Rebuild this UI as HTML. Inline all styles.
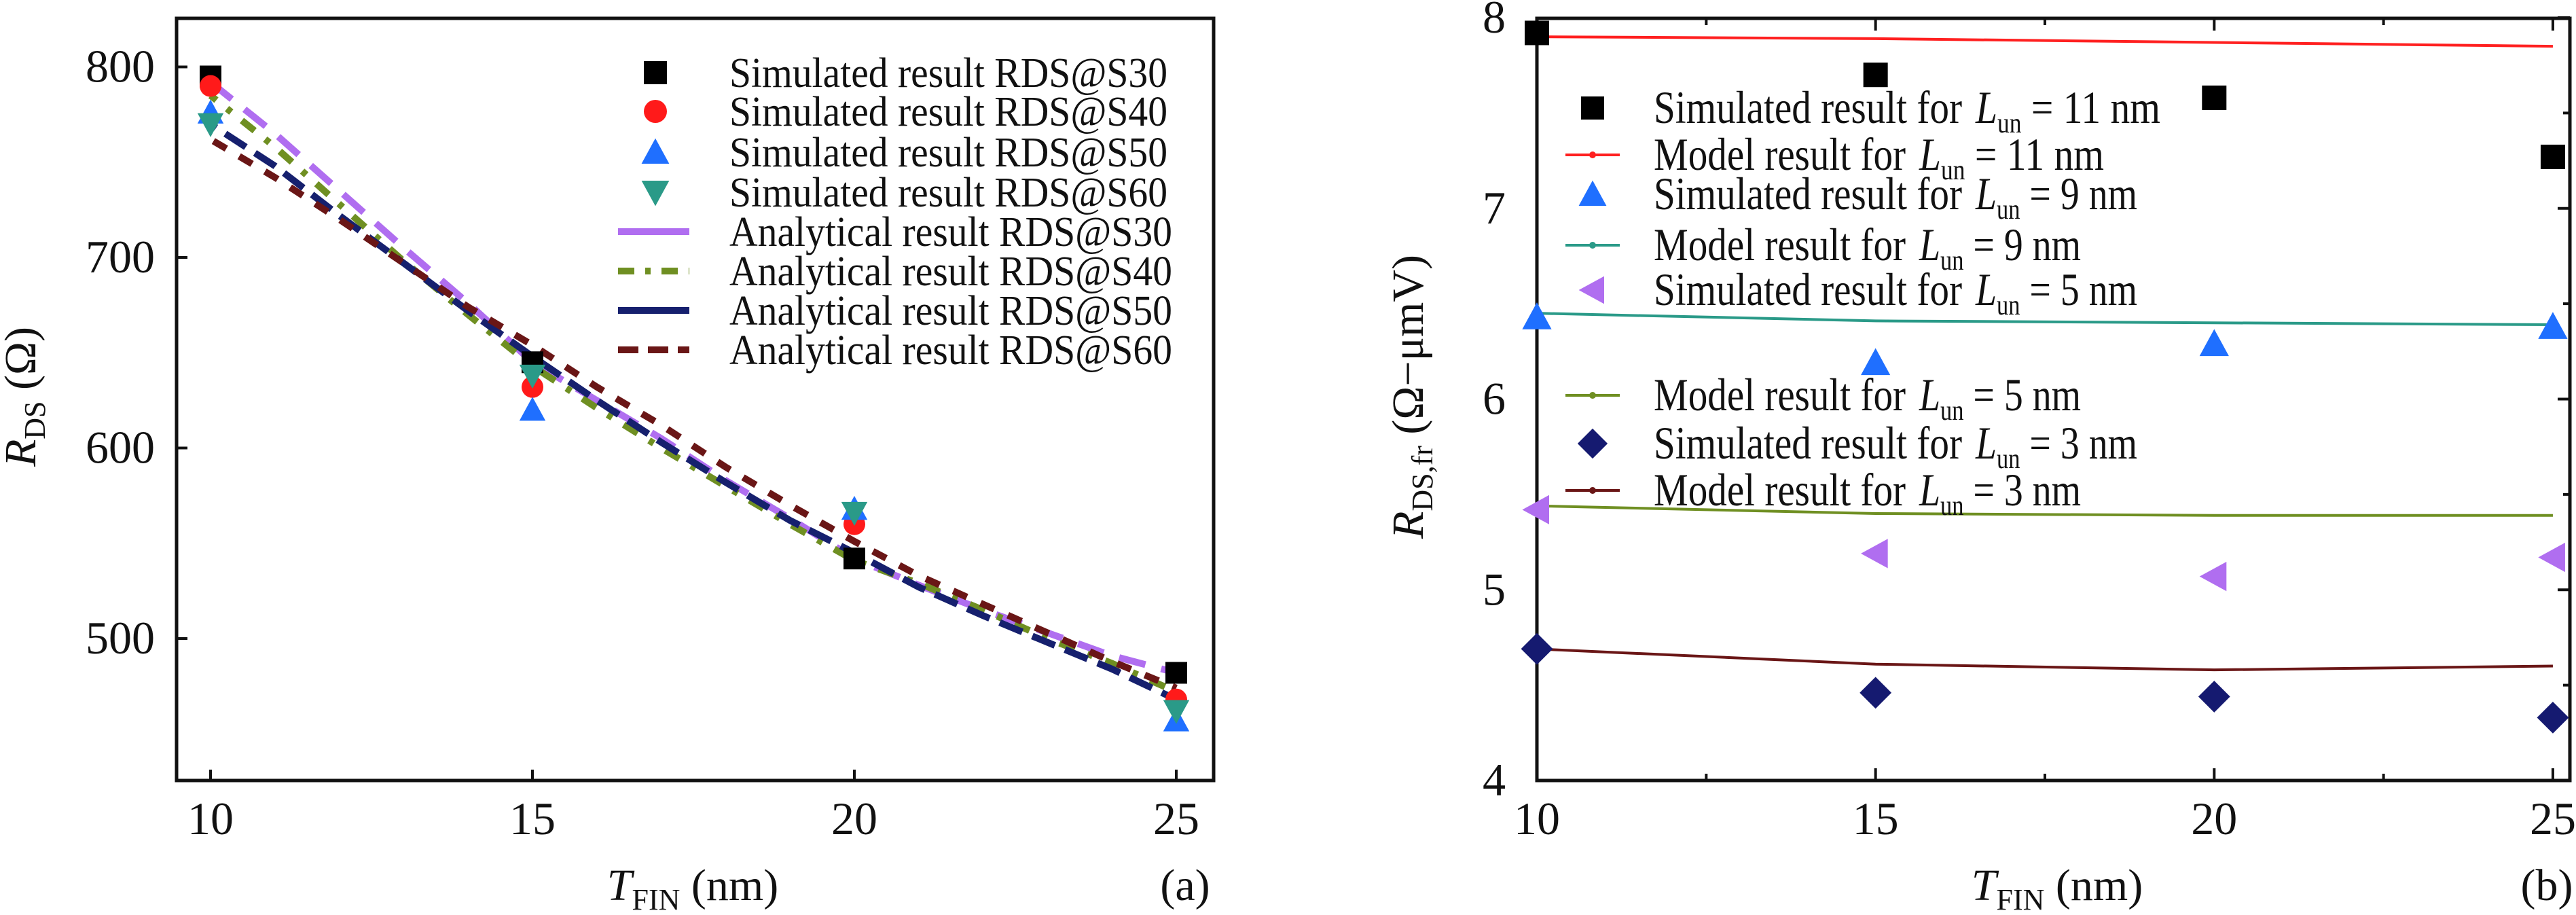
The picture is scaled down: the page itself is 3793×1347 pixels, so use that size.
<!DOCTYPE html>
<html><head><meta charset="utf-8"><style>
html,body{margin:0;padding:0;background:#fff}
svg{display:block;font-family:"Liberation Serif",serif}
</style></head><body>
<svg id="s" width="3793" height="1347" viewBox="0 0 3793 1347" xmlns="http://www.w3.org/2000/svg"></svg>
<script>
// ---- Chart (a) data ----
const xA = [10, 15, 20, 25];
const simS30 = [795, 645, 542, 482];
const simS40 = [790, 632, 560, 468];
const simS50 = [776, 620, 568, 457];
const simS60 = [770, 638, 566, 462];
const anX = [10, 11, 12, 13, 14, 15, 16, 17, 18, 19, 20, 21, 22, 23, 24, 25];
const anS30 = [792, 765, 735, 705, 676, 645, 625, 605, 583, 563, 542, 528, 515, 503, 491, 482];
const anS40 = [785, 758, 728, 698, 670, 643, 621, 600, 580, 560, 541, 529, 515, 500, 487, 472];
const anS50 = [770, 748, 722, 697, 672, 648, 625, 603, 582, 562, 545, 527, 512, 498, 484, 468];
const anS60 = [762, 742, 720, 697, 674, 654, 632, 612, 590, 570, 551, 533, 518, 503, 488, 474];
const yTicksA = [500, 600, 700, 800];
const xTicks = [10, 15, 20, 25];
// ---- Chart (b) data ----
const xB = [10, 15, 20, 25];
const sim11 = [7.92, 7.70, 7.58, 7.27];
const mod11 = [7.90, 7.89, 7.87, 7.85];
const sim9 = [6.43, 6.19, 6.29, 6.38];
const mod9 = [6.45, 6.41, 6.40, 6.39];
const sim5 = [5.42, 5.19, 5.07, 5.17];
const mod5 = [5.44, 5.40, 5.39, 5.39];
const sim3 = [4.69, 4.46, 4.44, 4.33];
const mod3 = [4.69, 4.61, 4.58, 4.60];
const yTicksB = [4, 5, 6, 7, 8];

const NS = "http://www.w3.org/2000/svg";
const svg = document.getElementById('s');
function mk(tag, attrs, parent) {
  const e = document.createElementNS(NS, tag);
  for (const k in attrs) e.setAttribute(k, attrs[k]);
  (parent || svg).appendChild(e);
  return e;
}
const axA = { x: v => 310 + (v - 10) * 94.8, y: v => 940 - (v - 500) * 2.805 };
const axB = { x: v => 2263 + (v - 10) * 99.73, y: v => 1149 - (v - 4) * 280.75 };

function marker(type, cx, cy, color, s, parent) {
  const p = parent || svg;
  let e;
  if (type === 'square') e = mk('rect', { x: cx - s, y: cy - s, width: 2 * s, height: 2 * s, fill: color }, p);
  else if (type === 'circle') e = mk('circle', { cx, cy, r: s, fill: color }, p);
  else if (type === 'up') e = mk('polygon', { points: `${cx},${cy - s * 1.2} ${cx - s * 1.2},${cy + s} ${cx + s * 1.2},${cy + s}`, fill: color }, p);
  else if (type === 'down') e = mk('polygon', { points: `${cx},${cy + s * 1.2} ${cx - s * 1.2},${cy - s} ${cx + s * 1.2},${cy - s}`, fill: color }, p);
  else if (type === 'left') e = mk('polygon', { points: `${cx - s * 1.2},${cy} ${cx + s},${cy - s * 1.2} ${cx + s},${cy + s * 1.2}`, fill: color }, p);
  else if (type === 'diamond') e = mk('polygon', { points: `${cx},${cy - s * 1.3} ${cx + s * 1.3},${cy} ${cx},${cy + s * 1.3} ${cx - s * 1.3},${cy}`, fill: color }, p);
  return e;
}
function txt(s, x, y, size, anchor, extra, parent) {
  const t = mk('text', Object.assign({ x, y, 'font-size': size, 'text-anchor': anchor || 'start', fill: '#111' }, extra || {}), parent);
  t.textContent = s;
  return t;
}

// ===== Chart (a) =====
const gA = mk('g', {});


const frameA = mk('rect', { x: 260, y: 27, width: 1527, height: 1122, fill: 'none', stroke: '#111', 'stroke-width': 5 }, gA);


yTicksA.forEach(v => {
  const y = axA.y(v);
  mk('line', { x1: 260, x2: 276, y1: y, y2: y, stroke: '#111', 'stroke-width': 4 }, gA);
  const t = txt(String(v), 228, y + 22, 68, 'end', {}, gA);
  
  
});
xTicks.forEach(v => {
  const x = axA.x(v);
  mk('line', { x1: x, x2: x, y1: 1149, y2: 1133, stroke: '#111', 'stroke-width': 4 }, gA);
  const t = txt(String(v), x, 1228, 68, 'middle', {}, gA);
  
  
});
const anSeries = [[anS30, '#b06ef0', '40 24'], [anS40, '#6f8f22', '24 20 8 20'], [anS50, '#16206e', '36 16'], [anS60, '#6a1616', '22 22']];
anSeries.forEach((s, i) => {
  const pts = anX.map((v, j) => `${axA.x(v)},${axA.y(s[0][j])}`).join(' ');
  const p = mk('polyline', { points: pts, fill: 'none', stroke: s[1], 'stroke-width': 10, 'stroke-dasharray': s[2], 'stroke-dashoffset': i * 13 }, gA);
  
  
});
const simA = [[simS30, 'square', '#000'], [simS40, 'circle', '#ff1a1a'], [simS50, 'up', '#1f6fff'], [simS60, 'down', '#2a9a88']];
simA.forEach((s, i) => {
  s[0].forEach((v, j) => {
    const m = marker(s[1], axA.x(xA[j]), axA.y(v), s[2], 16, gA);
    
    
  });
});
const legA = [['Simulated result RDS@S30', 'square', '#000'], ['Simulated result RDS@S40', 'circle', '#ff1a1a'], ['Simulated result RDS@S50', 'up', '#1f6fff'], ['Simulated result RDS@S60', 'down', '#2a9a88'],
  ['Analytical result RDS@S30', 'l', '#b06ef0'], ['Analytical result RDS@S40', 'l2', '#6f8f22'], ['Analytical result RDS@S50', 'l', '#16206e'], ['Analytical result RDS@S60', 'l3', '#6a1616']];
const legAy = [107, 164, 224, 283, 341, 399, 457, 515];
legA.forEach((l, i) => {
  const g = mk('g', {}, gA);
  
  
  const y = legAy[i];
  if (l[1][0] === 'l') {
    const da = l[1] === 'l2' ? '24 16 8 16' : l[1] === 'l3' ? '30 14' : 'none';
    mk('line', { x1: 910, x2: 1015, y1: y, y2: y, stroke: l[2], 'stroke-width': 10, 'stroke-dasharray': da }, g);
  } else marker(l[1], 965, y, l[2], 17, g);
  txt(l[0], 1074, y + 21, 62, 'start', { textLength: l[0].startsWith('Sim') ? 645 : 652, lengthAdjust: 'spacingAndGlyphs' }, g);
});
const yta = mk('text', { x: 0, y: 0, 'font-size': 66, 'text-anchor': 'middle', transform: 'translate(52,584) rotate(-90)', fill: '#111' }, gA);
yta.innerHTML = '<tspan font-style="italic">R</tspan><tspan font-size="44" dy="14">DS</tspan><tspan dy="-14"> (Ω)</tspan>';


const xta = mk('text', { x: 1020, y: 1325, 'font-size': 66, 'text-anchor': 'middle', fill: '#111' }, gA);
xta.innerHTML = '<tspan font-style="italic">T</tspan><tspan font-size="44" dy="14">FIN</tspan><tspan dy="-14"> (nm)</tspan>';


const la = txt('(a)', 1745, 1325, 66, 'middle', {}, gA);



// ===== Chart (b) =====
const gB = mk('g', {});


const frameB = mk('rect', { x: 2263, y: 27, width: 1521, height: 1122, fill: 'none', stroke: '#111', 'stroke-width': 5 }, gB);


for (let v = 4; v <= 8.001; v += 0.5) {
  const y = axB.y(v); const major = Math.abs(v - Math.round(v)) < 0.01;
  mk('line', { x1: 3784, x2: 3784 - (major ? 18 : 10), y1: y, y2: y, stroke: '#111', 'stroke-width': 4 }, gB);
}
yTicksB.forEach(v => {
  const y = axB.y(v);
  const t = txt(String(v), 2217, y + 22, 68, 'end', {}, gB);
  
  
});
for (let v = 10; v <= 25.001; v += 2.5) {
  const x = axB.x(v);
  mk('line', { x1: x, x2: x, y1: 27, y2: 27 + (v % 5 === 0 ? 18 : 10), stroke: '#111', 'stroke-width': 4 }, gB);
  mk('line', { x1: x, x2: x, y1: 1149, y2: 1149 - (v % 5 === 0 ? 18 : 10), stroke: '#111', 'stroke-width': 4 }, gB);
}
xTicks.forEach(v => {
  const t = txt(String(v), axB.x(v), 1228, 68, 'middle', {}, gB);
  
  
});
const modB = [[mod11, '#ff2020', '11'], [mod9, '#2a9a88', '9'], [mod5, '#6f8f22', '5'], [mod3, '#6a1616', '3']];
modB.forEach(s => {
  const pts = xB.map((v, j) => `${axB.x(v)},${axB.y(s[0][j])}`).join(' ');
  const p = mk('polyline', { points: pts, fill: 'none', stroke: s[1], 'stroke-width': 4 }, gB);
  
  
});
const simB = [[sim11, 'square', '#000', '11'], [sim9, 'up', '#1f6fff', '9'], [sim5, 'left', '#b06ef0', '5'], [sim3, 'diamond', '#151a70', '3']];
simB.forEach(s => {
  s[0].forEach((v, j) => {
    const m = marker(s[1], axB.x(xB[j]), axB.y(v), s[2], 18, gB);
    
    
  });
});
const legB = [['Simulated result for', '11', 'square', '#000'], ['Model result for', '11', 'l', '#ff2020'], ['Simulated result for', '9', 'up', '#1f6fff'], ['Model result for', '9', 'l', '#2a9a88'],
  ['Simulated result for', '5', 'left', '#b06ef0'], ['Model result for', '5', 'l', '#6f8f22'], ['Simulated result for', '3', 'diamond', '#151a70'], ['Model result for', '3', 'l', '#6a1616']];
const legBy = [159, 228, 286, 361, 427, 582, 653, 722];
legB.forEach((l, i) => {
  const g = mk('g', {}, gB);
  
  
  const y = legBy[i];
  if (l[2] === 'l') {
    mk('line', { x1: 2305, x2: 2385, y1: y, y2: y, stroke: l[3], 'stroke-width': 4 }, g);
    mk('circle', { cx: 2345, cy: y, r: 5, fill: l[3] }, g);
  } else marker(l[2], 2345, y, l[3], 17, g);
  const w = l[0].startsWith('Sim') ? 474 : 391;
  const t1 = mk('text', { x: 2435, y: y + 22, 'font-size': 68, fill: '#111', textLength: w - 20, lengthAdjust: 'spacingAndGlyphs' }, g);
  t1.textContent = l[0];
  const t2 = mk('text', { x: 2435 + w, y: y + 22, 'font-size': 68, fill: '#111', textLength: l[1].length > 1 ? 272 : 238, lengthAdjust: 'spacingAndGlyphs' }, g);
  t2.innerHTML = `<tspan font-style="italic">L</tspan><tspan font-size="42" dy="14">un</tspan><tspan dy="-14"> = ${l[1]} nm</tspan>`;
});
const ytb = mk('text', { x: 0, y: 0, 'font-size': 66, 'text-anchor': 'middle', transform: 'translate(2095,584) rotate(-90)', fill: '#111' }, gB);
ytb.innerHTML = '<tspan font-style="italic">R</tspan><tspan font-size="44" dy="14">DS,fr</tspan><tspan dy="-14"> (Ω−μmV)</tspan>';


const xtb = mk('text', { x: 3029, y: 1325, 'font-size': 66, 'text-anchor': 'middle', fill: '#111' }, gB);
xtb.innerHTML = '<tspan font-style="italic">T</tspan><tspan font-size="44" dy="14">FIN</tspan><tspan dy="-14"> (nm)</tspan>';


const lb = txt('(b)', 3750, 1325, 66, 'middle', {}, gB);


</script>
</body></html>
